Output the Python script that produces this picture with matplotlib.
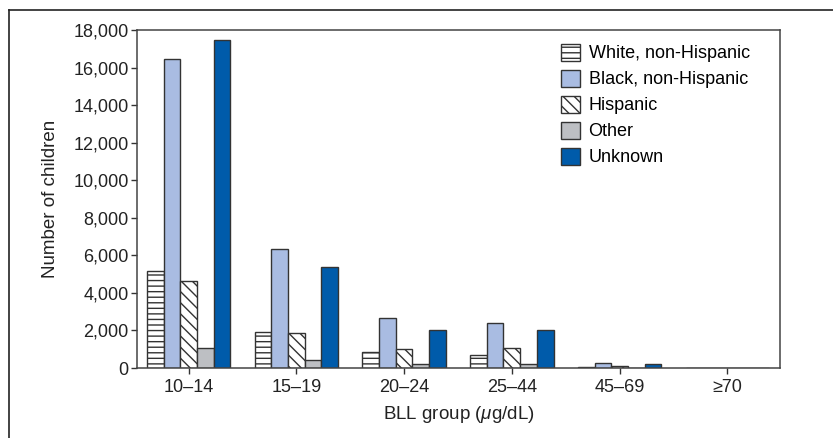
import matplotlib.pyplot as plt
import numpy as np
from matplotlib.lines import Line2D

plt.rcParams['font.family'] = ['Liberation Sans', 'DejaVu Sans']
plt.rcParams['hatch.linewidth'] = 1.0
plt.rcParams['mathtext.fontset'] = 'custom'
plt.rcParams['mathtext.it'] = 'Liberation Sans:italic'
plt.rcParams['mathtext.rm'] = 'Liberation Sans'

groups = ['10–14', '15–19', '20–24', '25–44', '45–69', '≥70']
series = ['White, non-Hispanic', 'Black, non-Hispanic', 'Hispanic', 'Other', 'Unknown']
white = [5180, 1900, 850, 690, 50, 0]
black = [16440, 6320, 2650, 2410, 280, 0]
hispanic = [4620, 1850, 1010, 1065, 120, 0]
other = [1065, 425, 210, 210, 0, 0]
unknown = [17465, 5390, 2020, 2020, 200, 0]

values = [white, black, hispanic, other, unknown]
faces = ['white', '#a9bce2', 'white', '#bdbfc3', '#005baa']
hatches = ['---', None, '\\\\\\', None, None]

fig = plt.figure(figsize=(8.33, 4.38), dpi=100)
ax = fig.add_axes([0.1645, 0.1598, 0.9364 - 0.1645, 0.9315 - 0.1598])

x = np.arange(len(groups))
w = 0.155
for i, vals in enumerate(values):
    ax.bar(x + (i - 2) * w, vals, width=w, color=faces[i], hatch=hatches[i],
           edgecolor='#333333', linewidth=1.0, label=series[i])

ax.set_xlim(-0.48, 5.49)
ax.set_ylim(0, 18000)
ax.set_yticks(np.arange(0, 18001, 2000))
ax.set_yticklabels([f'{v:,}' for v in range(0, 18001, 2000)])
ax.set_xticks(x)
ax.set_xticklabels(groups)
ax.tick_params(axis='both', labelsize=13, length=4, width=1, color='#333333', labelcolor='#222222')
ax.tick_params(axis='y', pad=2)
ax.tick_params(axis='x', pad=4)
for s in ax.spines.values():
    s.set_color('#444444')
    s.set_linewidth(1.1)

ax.set_ylabel('Number of children', fontsize=13.5, color='#222222', labelpad=10)
ax.set_xlabel(r'BLL group ($\mu$g/dL)', fontsize=13.5, color='#222222', labelpad=6)

leg = ax.legend(loc='upper right', bbox_to_anchor=(0.978, 1.008), frameon=False, fontsize=13,
                handlelength=1.1, handleheight=1.1, handletextpad=0.45, labelspacing=0.4)

# outer frame lines (top and left) of the cropped figure
fig.add_artist(Line2D([9 / 833, 1], [1 - 10 / 438, 1 - 10 / 438], color='#222222', lw=1.2))
fig.add_artist(Line2D([9 / 833, 9 / 833], [0, 1 - 10 / 438], color='#222222', lw=1.2))

fig.savefig('out.png', dpi=100)
